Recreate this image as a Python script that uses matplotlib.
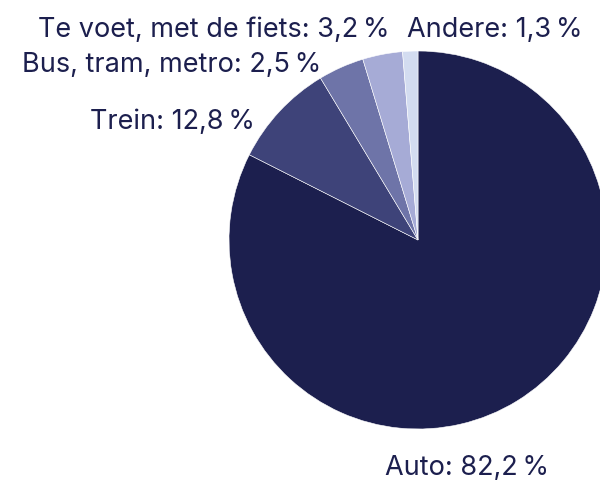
import matplotlib
matplotlib.use("Agg")
import matplotlib.pyplot as plt

categories = ["Auto", "Trein", "Bus, tram, metro", "Te voet, met de fiets", "Andere"]
shares = [82.2, 8.9, 3.9, 3.4, 1.3]
# percentages printed in the labels
label_values = ["82,2", "12,8", "2,5", "3,2", "1,3"]
colors = ["#1c1f4e", "#3e4379", "#6e74a8", "#a6abd6", "#d3dcf0"]

W, H = 600, 482
fig = plt.figure(figsize=(W / 100, H / 100), dpi=100)
cx, cy, r = 418, 240, 189
ax = fig.add_axes([(cx - r) / W, (H - cy - r) / H, 2 * r / W, 2 * r / H])
ax.pie(shares, colors=colors, startangle=90, counterclock=False, radius=1,
       wedgeprops=dict(edgecolor="white", linewidth=0.4))
ax.set_xlim(-1, 1)
ax.set_ylim(-1, 1)
ax.set_aspect("equal")
ax.axis("off")

txtcolor = "#1c1f4e"
fam = ["Inter", "DejaVu Sans"]
labels = [f"{c}: {v}\u2009%" for c, v in zip(categories, label_values)]
# (x, baseline y, ha) in pixel coordinates from top-left
positions = [(385, 475, "left"), (255, 129, "right"), (321, 72, "right"),
             (390, 37, "right"), (407, 37, "left")]
for lab, (x, y, ha) in zip(labels, positions):
    fig.text(x / W, 1 - y / H, lab, ha=ha, va="baseline", fontsize=19.5,
             color=txtcolor, family=fam)

fig.savefig("out.png", dpi=100)
